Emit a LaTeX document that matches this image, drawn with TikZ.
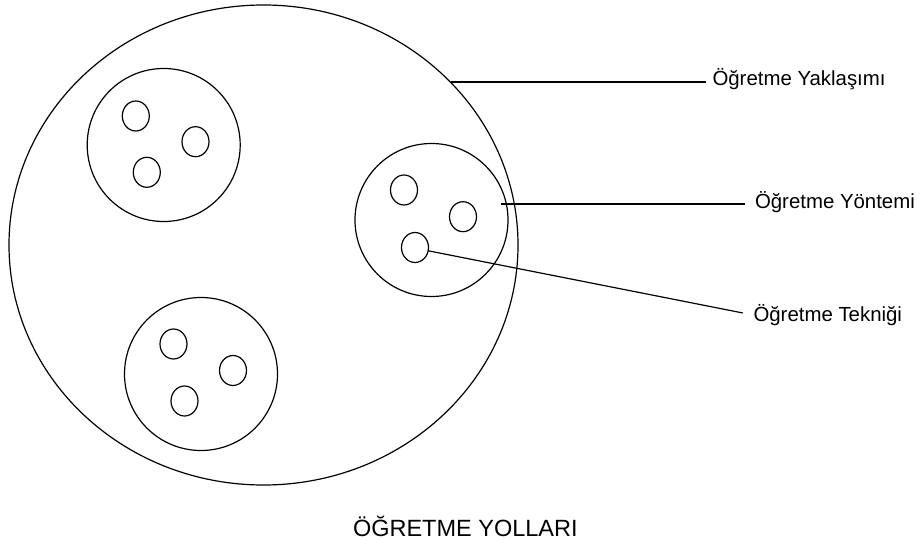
\documentclass[tikz,border=0pt]{standalone}
\usepackage{fontspec}
\setmainfont{Liberation Sans}
\usetikzlibrary{shapes.geometric}
\tikzset{
  ring/.style={draw, line width=1.2pt, inner sep=0pt, outer sep=0pt},
  bigring/.style={ring, ellipse, minimum width=509pt, minimum height=480pt},
  midring/.style={ring, circle, minimum size=153pt},
  dot/.style={ring, ellipse, minimum width=27pt, minimum height=30pt},
  lbl/.style={inner sep=0pt, outer sep=0pt, font=\fontsize{20.4}{24}\selectfont, anchor=base west},
  ttl/.style={inner sep=0pt, font=\fontsize{23.5}{28}\selectfont, anchor=base},
  thickline/.style={line width=2pt},
  thinline/.style={line width=1.2pt}
}
\begin{document}
\begin{tikzpicture}[x=1pt,y=-1pt]
\useasboundingbox (0,0) rectangle (921,540);
% outer approach
\node[bigring] (big) at (263.5,245) {};
% methods
\node[midring] (tl) at (163.7,145) {};
\node[midring] (rc) at (431.5,220) {};
\node[midring] (bc) at (201,374) {};
% techniques
\node[dot] (t1) at (135.8,116) {};
\node[dot] (t2) at (195.5,141.7) {};
\node[dot] (t3) at (146.8,172.3) {};
\node[dot] (r1) at (404,190) {};
\node[dot] (r2) at (463,216.7) {};
\node[dot] (r3) at (415,247.5) {};
\node[dot] (b1) at (173.5,344) {};
\node[dot] (b2) at (233,370.5) {};
\node[dot] (b3) at (184.5,401) {};
% labels
\node[lbl] (lab1) at (712.5,85.5) {Öğretme Yaklaşımı};
\node[lbl] (lab2) at (755,209) {Öğretme Yöntemi};
\node[lbl] (lab3) at (753.5,321.5) {Öğretme Tekniği};
\node[ttl] (title) at (465.3,536) {ÖĞRETME YOLLARI};
% connectors
\draw[thickline, shorten >=7pt] (big.41.8) -- (lab1.west |- big.41.8);
\draw[thickline, shorten <=-5pt, shorten >=10pt] (rc.12.5) -- (lab2.west |- rc.12.5);
\draw[thinline, shorten >=11pt] (r3.-14) -- (lab3.west);
\end{tikzpicture}
\end{document}
